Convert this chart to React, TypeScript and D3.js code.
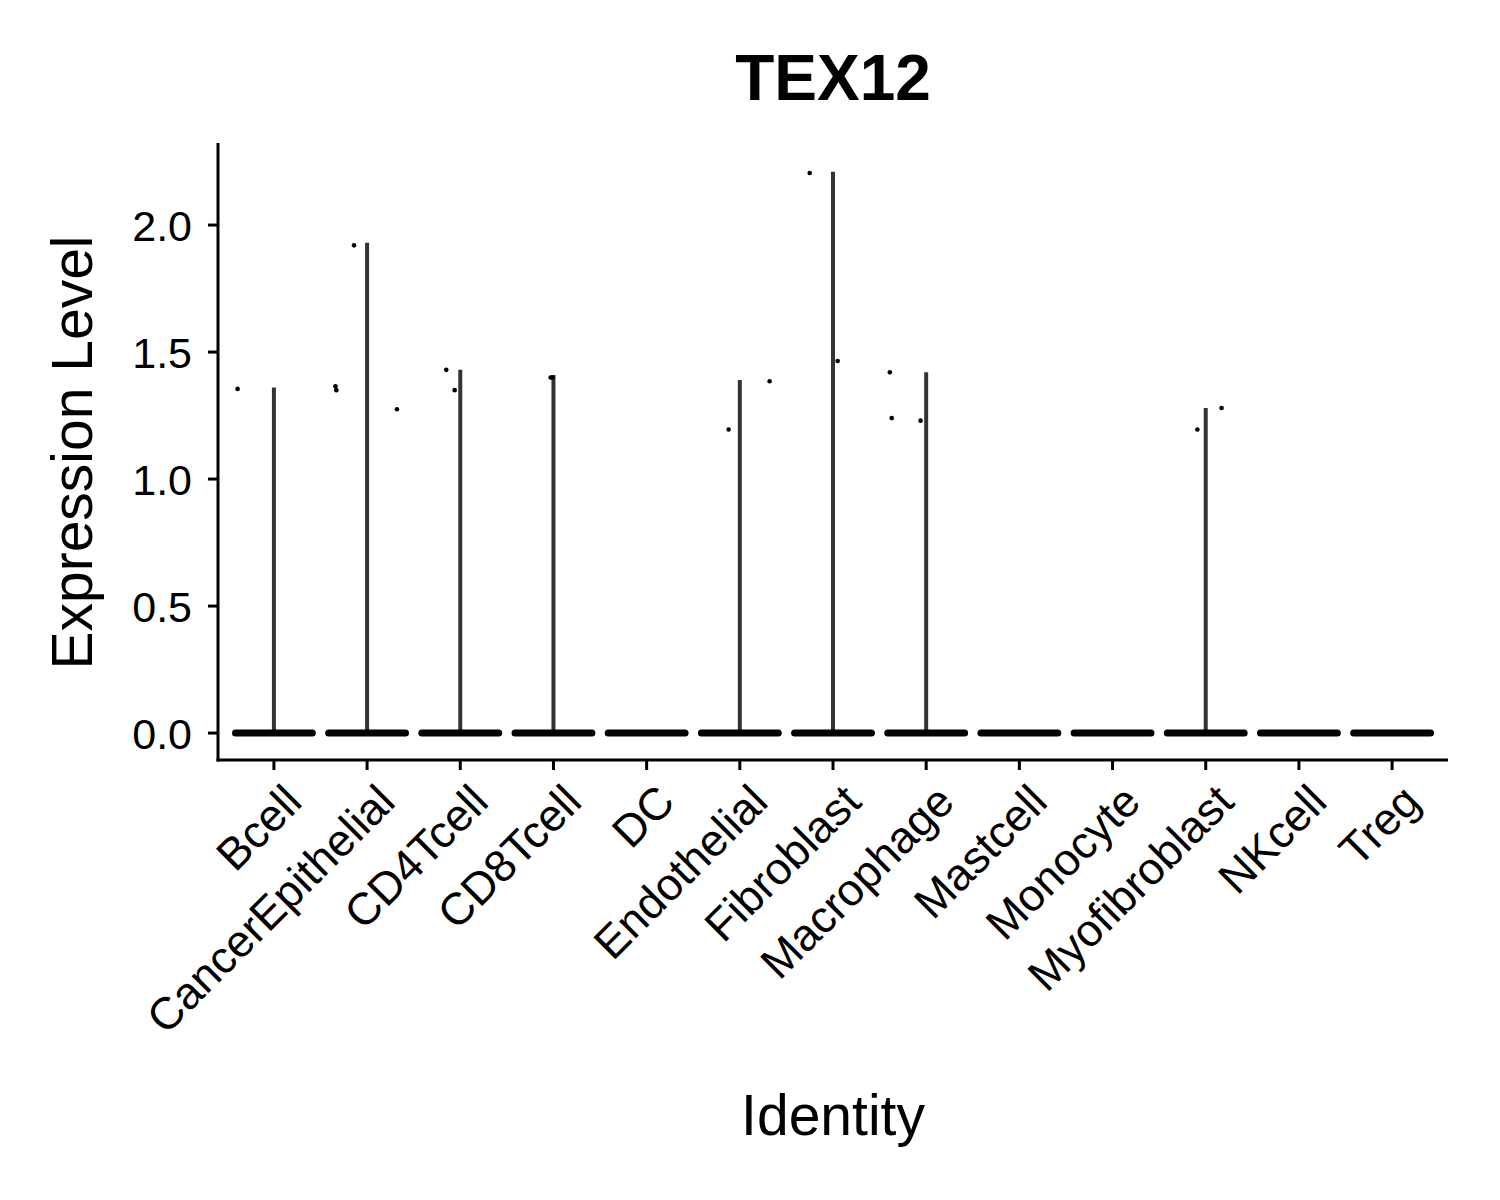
import React from 'react';
import * as d3 from 'd3';

const categories = ['Bcell', 'CancerEpithelial', 'CD4Tcell', 'CD8Tcell', 'DC', 'Endothelial', 'Fibroblast',
  'Macrophage', 'Mastcell', 'Monocyte', 'Myofibroblast', 'NKcell', 'Treg'];
const maxValues = [1.36, 1.93, 1.43, 1.41, 0, 1.39, 2.21, 1.42, 0, 0, 1.28, 0, 0];
// non-zero cells: category index, jitter (category units), value
const pointCat = [0, 1, 1, 1, 1, 2, 2, 3, 3, 5, 5, 6, 6, 7, 7, 7, 10, 10];
const pointJitter = [-0.39, -0.34, -0.33, -0.14, 0.32, -0.15, -0.06, -0.03, -0.01, -0.12, 0.32, -0.25, 0.05, -0.39, -0.37, -0.06, -0.09, 0.17];
const pointValue = [1.355, 1.365, 1.35, 1.92, 1.275, 1.43, 1.35, 1.4, 1.4, 1.195, 1.385, 2.205, 1.465, 1.42, 1.24, 1.23, 1.195, 1.28];
const yTicks = [0, 0.5, 1, 1.5, 2];

const W = 1500, H = 1200;
const L = 218, R = 1448, T = 143, B = 760;
const font = '"Liberation Sans", Arial, Helvetica, sans-serif';

export default function App() {
  const x = d3.scalePoint<string>().domain(categories).range([L, R]).padding(0.6);
  const unit = x.step();
  const y = d3.scaleLinear().domain([-0.106, 2.323]).range([B, T]);
  const xj = (i: number, j: number) => (x(categories[i]) as number) + j * unit;

  return (
    <svg width={W} height={H} style={{ display: 'block', margin: -8, background: '#fff' }} fontFamily={font}>
      <text x={833} y={100} textAnchor="middle" fontSize={64} fontWeight="bold">TEX12</text>
      {categories.map((c, i) => {
        const cx = x(c) as number;
        return (
          <g key={c}>
            {maxValues[i] > 0 && (
              <line x1={cx} x2={cx} y1={y(0)} y2={y(maxValues[i])} stroke="#333" strokeWidth={4} />
            )}
            <rect x={cx - unit * 0.45} y={y(0) - 3.5} width={unit * 0.9} height={7} rx={3.5} fill="#000" />
          </g>
        );
      })}
      {pointValue.map((v, k) => (
        <circle key={k} cx={xj(pointCat[k], pointJitter[k])} cy={y(v)} r={2.3} fill="#000" />
      ))}
      <line x1={L} x2={L} y1={T} y2={B + 1.5} stroke="#000" strokeWidth={3} />
      <line x1={L - 1.5} x2={R} y1={B} y2={B} stroke="#000" strokeWidth={3} />
      {yTicks.map(t => (
        <g key={t}>
          <line x1={L - 10} x2={L} y1={y(t)} y2={y(t)} stroke="#000" strokeWidth={3} />
          <text x={L - 26} y={y(t)} dy="0.36em" textAnchor="end" fontSize={43}>{t.toFixed(1)}</text>
        </g>
      ))}
      {categories.map(c => {
        const cx = x(c) as number;
        return (
          <g key={c}>
            <line x1={cx} x2={cx} y1={B} y2={B + 10} stroke="#000" strokeWidth={3} />
            <text transform={`translate(${cx + 8},${B + 22}) rotate(-45)`} textAnchor="end" fontSize={45} dy="0.7em">{c}</text>
          </g>
        );
      })}
      <text transform={`translate(92,${(T + B) / 2 + 1}) rotate(-90)`} textAnchor="middle" fontSize={57}>Expression Level</text>
      <text x={833} y={1135} textAnchor="middle" fontSize={57}>Identity</text>
    </svg>
  );
}
